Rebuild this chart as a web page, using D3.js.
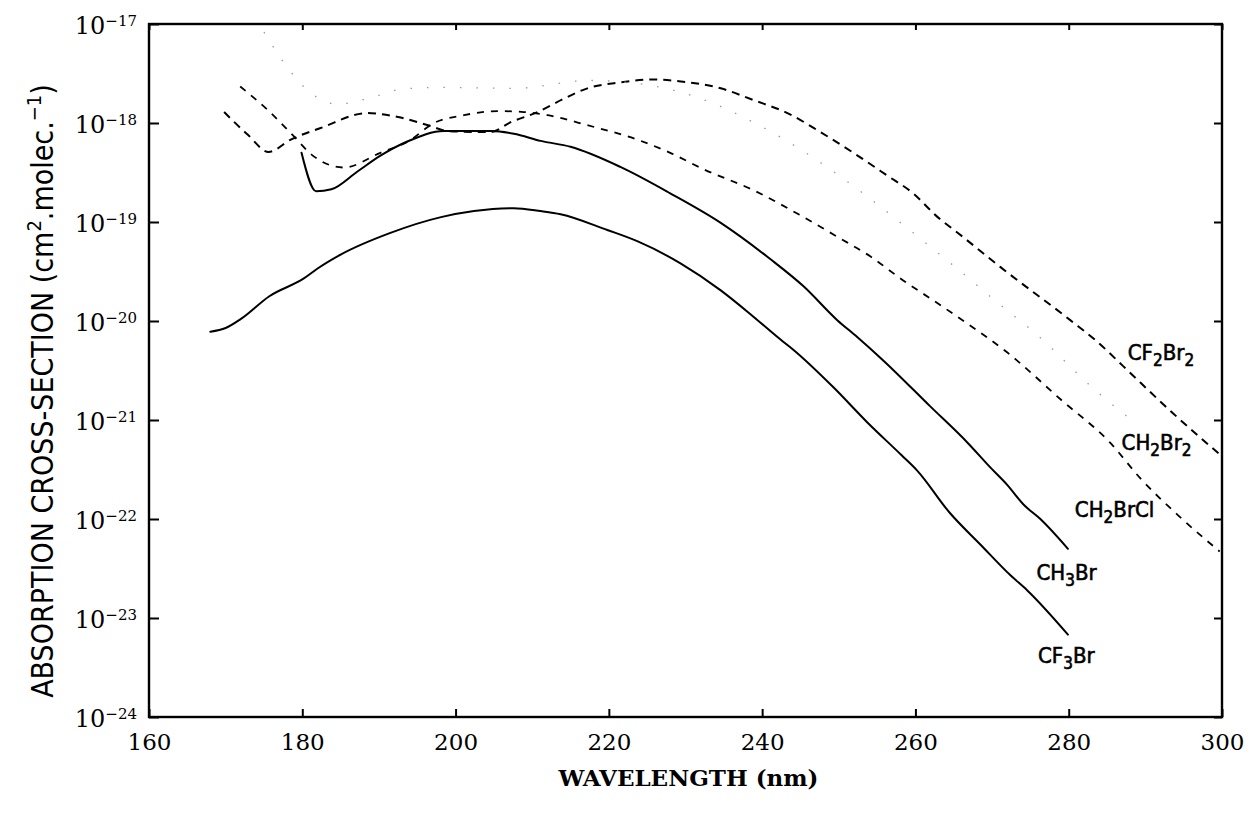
<!DOCTYPE html>
<html>
<head>
<meta charset="utf-8">
<script src="https://cdn.jsdelivr.net/npm/d3@7"></script>
<style>
html,body{margin:0;padding:0;background:#fff;}
svg{display:block;}
</style>
</head>
<body>
<svg id="chart" width="1252" height="820"></svg>
<script>
// ---------------- data ----------------
const xTickValues = [160, 180, 200, 220, 240, 260, 280, 300];
const yTickExponents = [-24, -23, -22, -21, -20, -19, -18, -17];

const cf3brWavelength = [168, 170, 172, 175.7, 180.2, 182, 185, 191.5, 198.1, 202.4, 207.6, 211.1, 213.7, 219.8, 223.7, 229.4, 234.6, 238.9, 242.4, 244.1, 249.3, 253.7, 258.2, 260.2, 264.5, 268.5, 272.4, 274.6, 279.9];
const cf3brSigma = [7.8e-21, 8.5e-21, 1.05e-20, 1.78e-20, 2.69e-20, 3.39e-20, 4.68e-20, 7.76e-20, 1.12e-19, 1.29e-19, 1.38e-19, 1.29e-19, 1.20e-19, 8.3e-20, 6.4e-20, 3.8e-20, 2.04e-20, 1.10e-20, 6.5e-21, 5.1e-21, 2.14e-21, 9.5e-22, 4.4e-22, 3.1e-22, 1.15e-22, 5.5e-23, 2.7e-23, 1.9e-23, 6.8e-24];

const ch3brWavelength = [179.9, 181.8, 183.8, 187.2, 190.2, 193.7, 198.5, 204.6, 207.6, 211.1, 215.0, 221.5, 228.0, 234.6, 241.1, 245.4, 249.8, 252.4, 255.8, 261.9, 266.8, 269.8, 272.0, 274.1, 276.3, 279.9];
const ch3brSigma = [5.0e-19, 2.04e-19, 2.14e-19, 3.24e-19, 4.68e-19, 6.5e-19, 8.3e-19, 8.3e-19, 7.8e-19, 6.6e-19, 5.75e-19, 3.6e-19, 1.95e-19, 9.8e-20, 4.2e-20, 2.24e-20, 1.02e-20, 6.9e-21, 4.0e-21, 1.38e-21, 5.9e-22, 3.3e-22, 2.2e-22, 1.4e-22, 1.0e-22, 5.0e-23];

const cf2br2Wavelength = [169.8, 172.9, 175.6, 178.5, 182.4, 188.5, 190.2, 192.5, 196.4, 199.0, 202.6, 204.6, 207.2, 210.7, 214.0, 217.2, 221.5, 225.8, 229.4, 234.6, 238.9, 243.3, 247.6, 251.9, 256.3, 259.7, 262.9, 265.5, 271.1, 280.2, 283.7, 287.1, 293.6, 299.7];
const cf2br2Sigma = [1.29e-18, 7.6e-19, 5.1e-19, 6.8e-19, 8.9e-19, 1.26e-18, 1.23e-18, 1.15e-18, 9.5e-19, 8.3e-19, 8.1e-19, 8.1e-19, 1.02e-18, 1.29e-18, 1.74e-18, 2.24e-18, 2.57e-18, 2.75e-18, 2.63e-18, 2.24e-18, 1.70e-18, 1.26e-18, 8.1e-19, 5.0e-19, 2.95e-19, 1.95e-19, 1.12e-19, 7.8e-20, 3.5e-20, 1.02e-20, 6.2e-21, 3.5e-21, 1.17e-21, 4.5e-22];

const ch2brclWavelength = [171.9, 175.5, 178.5, 181.5, 185.4, 190.2, 193.8, 197.2, 201.1, 205.5, 208.9, 212.0, 217.2, 223.7, 228.0, 232.4, 238.9, 245.4, 249.8, 254.1, 258.4, 262.9, 265.5, 272.0, 279.0, 285.4, 289.3, 294.5, 299.7];
const ch2brclSigma = [2.34e-18, 1.35e-18, 7.9e-19, 4.6e-19, 3.55e-19, 5.0e-19, 6.5e-19, 1.0e-18, 1.20e-18, 1.32e-18, 1.29e-18, 1.20e-18, 9.5e-19, 6.8e-19, 5.0e-19, 3.4e-19, 2.09e-19, 1.12e-19, 7.1e-20, 4.5e-20, 2.57e-20, 1.51e-20, 1.10e-20, 4.8e-21, 1.6e-21, 5.9e-22, 2.6e-22, 1.05e-22, 4.7e-23];

const ch2br2Wavelength = [175.0, 178.1, 180.7, 184.6, 188.7, 192.9, 197.8, 207.8, 217.4, 225.4, 232.9, 239.8, 265.6, 271.1, 275.4, 283.8, 288.7];
const ch2br2Sigma = [8.3e-18, 3.6e-18, 2.14e-18, 1.55e-18, 1.78e-18, 2.19e-18, 2.29e-18, 2.24e-18, 2.69e-18, 2.4e-18, 1.66e-18, 9.3e-19, 3.3e-20, 1.45e-20, 7.8e-21, 1.9e-21, 9.3e-22];

const xTitle = "WAVELENGTH (nm)";

// ---------------- layout ----------------
const svg = d3.select("#chart");
const plotL = 149, plotR = 1222, plotT = 24, plotB = 717;

const x = d3.scaleLinear().domain([160, 300]).range([plotL, plotR]);
const y = d3.scaleLog().domain([1e-24, 1e-17]).range([plotB, plotT]);

svg.append("rect").attr("width", 1252).attr("height", 820).attr("fill", "#fff");

svg.append("defs").append("clipPath").attr("id", "plotclip")
  .append("rect").attr("x", plotL).attr("y", plotT).attr("width", plotR - plotL).attr("height", plotB - plotT);

const serif = "'DejaVu Serif', 'Liberation Serif', serif";
const cond = "'DejaVu Sans Condensed', 'Liberation Sans Narrow', 'DejaVu Sans', sans-serif";

// ---------------- axes ----------------
const yVals = yTickExponents.map(e => Math.pow(10, e));

const gLeft = svg.append("g").attr("transform", `translate(${plotL},0)`)
  .call(d3.axisLeft(y).tickValues(yVals).tickSize(-10).tickSizeOuter(0).tickFormat(() => ""));
gLeft.select(".domain").remove();
gLeft.selectAll(".tick line").attr("stroke", "#000").attr("stroke-width", 2);
gLeft.selectAll(".tick text").remove();
gLeft.selectAll(".tick").each(function(d) {
  const e = Math.round(Math.log10(d));
  const t = d3.select(this).append("text")
    .attr("x", -12).attr("y", 9)
    .attr("text-anchor", "end")
    .attr("fill", "#000")
    .style("font-family", serif);
  t.append("tspan").style("font-size", "24px").text("10");
  t.append("tspan").style("font-size", "15px").attr("dy", -8).text("\u2212" + Math.abs(e));
});

const gRight = svg.append("g").attr("transform", `translate(${plotR},0)`)
  .call(d3.axisRight(y).tickValues(yVals).tickSize(-8).tickSizeOuter(0).tickFormat(() => ""));
gRight.select(".domain").remove();
gRight.selectAll(".tick line").attr("stroke", "#000").attr("stroke-width", 2);

const gBottom = svg.append("g").attr("transform", `translate(0,${plotB})`)
  .call(d3.axisBottom(x).tickValues(xTickValues).tickSize(-8).tickSizeOuter(0).tickPadding(17).tickFormat(d3.format("d")));
gBottom.select(".domain").remove();
gBottom.selectAll(".tick line").attr("stroke", "#000").attr("stroke-width", 2);
gBottom.selectAll(".tick text")
  .attr("fill", "#000")
  .style("font-family", serif)
  .style("font-size", "23px");

const gTop = svg.append("g").attr("transform", `translate(0,${plotT})`)
  .call(d3.axisTop(x).tickValues(xTickValues).tickSize(-6).tickSizeOuter(0).tickFormat(() => ""));
gTop.select(".domain").remove();
gTop.selectAll(".tick line").attr("stroke", "#000").attr("stroke-width", 2);

// frame
svg.append("rect")
  .attr("x", plotL).attr("y", plotT).attr("width", plotR - plotL).attr("height", plotB - plotT)
  .attr("fill", "none").attr("stroke", "#000").attr("stroke-width", 2.4);

// ---------------- series ----------------
const series = [
  {name: "CF3Br", wl: cf3brWavelength, s: cf3brSigma},
  {name: "CH3Br", wl: ch3brWavelength, s: ch3brSigma},
  {name: "CF2Br2", wl: cf2br2Wavelength, s: cf2br2Sigma},
  {name: "CH2BrCl", wl: ch2brclWavelength, s: ch2brclSigma},
  {name: "CH2Br2", wl: ch2br2Wavelength, s: ch2br2Sigma}
];
const styleOf = {
  CF3Br: {dash: null, width: 2, color: "#000"},
  CH3Br: {dash: null, width: 2, color: "#000"},
  CF2Br2: {dash: "8,6", width: 2, color: "#000"},
  CH2BrCl: {dash: "7,7", width: 1.8, color: "#000"},
  CH2Br2: {dash: "1.5,15", width: 1.3, color: "#999"}
};

const line = d3.line()
  .x(d => x(d[0]))
  .y(d => y(d[1]))
  .curve(d3.curveMonotoneX);

const gLines = svg.append("g").attr("clip-path", "url(#plotclip)");
series.forEach(sr => {
  const pts = sr.wl.map((w, i) => [w, sr.s[i]]);
  const st = styleOf[sr.name];
  gLines.append("path")
    .datum(pts)
    .attr("d", line)
    .attr("fill", "none")
    .attr("stroke", st.color)
    .attr("stroke-width", st.width)
    .attr("stroke-linecap", st.dash ? "butt" : "round")
    .attr("stroke-linejoin", "round")
    .attr("stroke-dasharray", st.dash);
});

// ---------------- series labels ----------------
function chemLabel(parts, px, py) {
  const t = svg.append("text")
    .attr("x", px).attr("y", py)
    .attr("fill", "#000")
    .attr("stroke", "#000")
    .attr("stroke-width", 0.6)
    .style("font-family", cond)
    .style("font-size", "22px");
  let sub = false;
  parts.forEach(p => {
    const isSub = /^\d$/.test(p);
    const ts = t.append("tspan").text(p);
    if (isSub && !sub) { ts.attr("dy", 6).style("font-size", "17px"); sub = true; }
    else if (!isSub && sub) { ts.attr("dy", -6); sub = false; }
  });
}
chemLabel(["CF", "2", "Br", "2"], x(287.7), y(Math.pow(10, -20.39)));
chemLabel(["CH", "2", "Br", "2"], x(286.9), y(Math.pow(10, -21.30)));
chemLabel(["CH", "2", "BrCl"], x(280.8), y(Math.pow(10, -21.98)));
chemLabel(["CH", "3", "Br"], x(275.8), y(Math.pow(10, -22.62)));
chemLabel(["CF", "3", "Br"], x(276.0), y(Math.pow(10, -23.45)));

// ---------------- titles ----------------
svg.append("text")
  .attr("x", (plotL + plotR) / 2 + 3).attr("y", 786)
  .attr("text-anchor", "middle")
  .attr("fill", "#000")
  .style("font-family", serif)
  .style("font-weight", "bold")
  .style("font-size", "23px")
  .text(xTitle);

const yt = svg.append("text")
  .attr("transform", "translate(53,391) rotate(-90)")
  .attr("text-anchor", "middle")
  .attr("fill", "#000")
  .style("font-family", cond)
  .style("font-size", "30px");
yt.append("tspan").text("ABSORPTION CROSS-SECTION (cm");
yt.append("tspan").attr("dy", -12).style("font-size", "20px").text("2");
yt.append("tspan").attr("dy", 12).text(".molec.");
yt.append("tspan").attr("dy", -12).style("font-size", "20px").text("\u22121");
yt.append("tspan").attr("dy", 12).text(")");
</script>
</body>
</html>
